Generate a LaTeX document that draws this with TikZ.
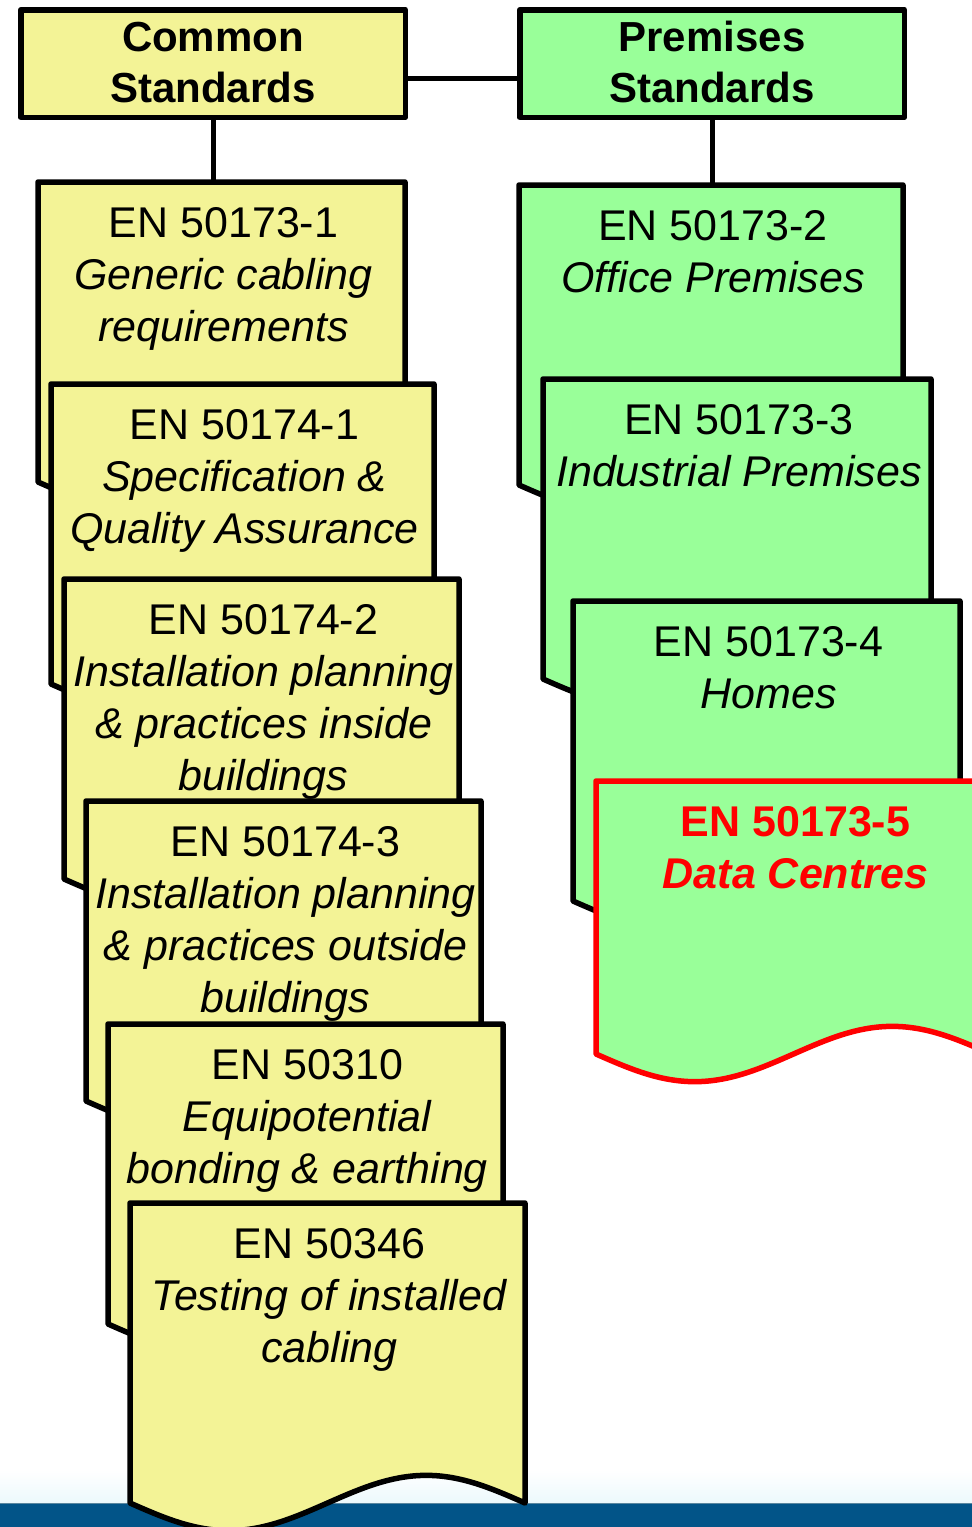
\documentclass[tikz,border=0pt]{standalone}
\usepackage{fontspec}
\setmainfont{Liberation Sans}
\usetikzlibrary{calc}
\definecolor{docyellow}{RGB}{243,243,150}
\definecolor{docgreen}{RGB}{153,255,153}
\definecolor{barblue}{RGB}{2,84,136}
\definecolor{barline}{RGB}{90,135,160}
\definecolor{haze}{RGB}{236,249,252}
% #1 name, #2 left x, #3 top y, #4 width, #5 height to wave ends, #6 style, #7 text
\newcommand{\docsheet}[7]{%
  \draw[#6] (#2,#3) -- (#2,#3+#5)
    sin (#2+0.25*#4,#3+#5+0.07*#4) cos (#2+0.5*#4,#3+#5)
    sin (#2+0.75*#4,#3+#5-0.07*#4) cos (#2+#4,#3+#5)
    -- (#2+#4,#3) -- cycle;
  \coordinate (#1-top) at (#2+0.5*#4,#3);
  \node[doctext] (#1) at (#2+0.5*#4+2,#3+55.5) {\begin{tabular}[t]{@{}c@{}}#7\end{tabular}};%
}
\begin{document}
\begin{tikzpicture}[x=1pt,y=-1pt,line join=round,
  hdr/.style={draw=black,line width=5.5pt,minimum width=384.5pt,minimum height=107.5pt,inner sep=0pt,font=\fontsize{42}{51}\selectfont\bfseries},
  sheetY/.style={draw=black,fill=docyellow,line width=5.5pt},
  sheetG/.style={draw=black,fill=docgreen,line width=5.5pt},
  sheetR/.style={draw=red,fill=docgreen,line width=5.5pt},
  doctext/.style={anchor=base,inner sep=0pt,font=\fontsize{43}{52}\selectfont},
  link/.style={draw=black,line width=5pt}]
\path[use as bounding box,fill=white] (0,0) rectangle (972,1527);
\shade[top color=white,bottom color=haze] (0,1470) rectangle (972,1503);
\fill[barblue] (0,1503) rectangle (972,1527);
\draw[barline,line width=1pt] (0,1503.5) -- (972,1503.5);

\node[hdr,fill=docyellow] (common) at (213,63.5) {\raisebox{-3pt}[\height][\depth]{\begin{tabular}{@{}c@{}}Common\\Standards\end{tabular}}};
\node[hdr,fill=docgreen] (premises) at (712,63.5) {\raisebox{-3pt}[\height][\depth]{\begin{tabular}{@{}c@{}}Premises\\Standards\end{tabular}}};

% left stack
\docsheet{d1}{38}{182}{367}{300}{sheetY}{EN 50173-1\\\textit{Generic cabling}\\\textit{requirements}}
\docsheet{d2}{51}{384}{383}{300}{sheetY}{EN 50174-1\\\textit{Specification \&}\\\textit{Quality Assurance}}
\docsheet{d3}{64}{579}{395}{300}{sheetY}{EN 50174-2\\\textit{Installation planning}\\\textit{\& practices inside}\\\textit{buildings}}
\docsheet{d4}{86}{801}{395}{300}{sheetY}{EN 50174-3\\\textit{Installation planning}\\\textit{\& practices outside}\\\textit{buildings}}
\docsheet{d5}{108}{1024}{395}{300}{sheetY}{EN 50310\\\textit{Equipotential}\\\textit{bonding \& earthing}}
\docsheet{d6}{130}{1203}{395}{300}{sheetY}{EN 50346\\\textit{Testing of installed}\\\textit{cabling}}

% right stack
\docsheet{r1}{519}{185}{384}{300}{sheetG}{EN 50173-2\\\textit{Office Premises}}
\docsheet{r2}{543}{379}{388}{300}{sheetG}{EN 50173-3\\\textit{Industrial Premises}}
\docsheet{r3}{573}{601}{387}{300}{sheetG}{EN 50173-4\\\textit{Homes}}
\docsheet{r4}{596}{781}{395}{273}{sheetR}{\color{red}\bfseries EN 50173-5\\\color{red}\bfseries\itshape Data Centres}

% connectors
\coordinate (hlink) at ($(common.south east)!0.363!(common.north east)$);
\draw[link] (hlink) -- (hlink -| premises.west);
\draw[link] (common.south) -- (common.south |- d1-top);
\draw[link] (premises.south) -- (premises.south |- r1-top);
\end{tikzpicture}
\end{document}
